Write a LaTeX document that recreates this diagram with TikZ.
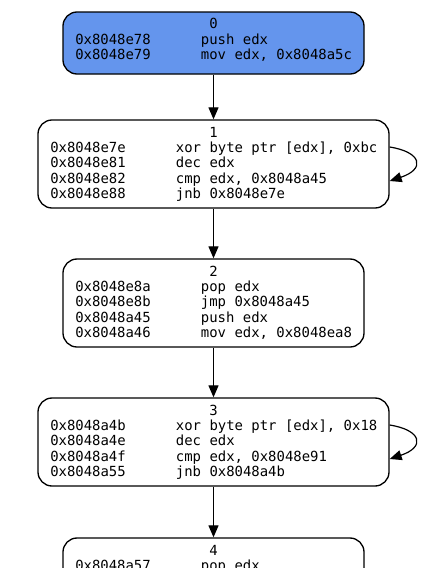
\documentclass[tikz,border=0pt]{standalone}
\usepackage{fontspec}
\setmonofont{DejaVu Sans Mono}
\usetikzlibrary{arrows.meta}
\definecolor{blkblue}{HTML}{6495ED}
\tikzset{
  blk/.style={draw=black, line width=1pt, rounded corners=10.5pt, inner sep=0pt, fill=white},
  wide/.style={blk, minimum width=263.25pt, minimum height=66pt},
  narrow/.style={blk, minimum width=225.75pt, minimum height=66pt},
  txt/.style={inner sep=0pt, font=\ttfamily\fontsize{10.45pt}{12pt}\selectfont, anchor=base west},
  num/.style={txt, anchor=base},
  arr/.style={line width=0.9pt, -{Triangle[length=9pt, width=7.5pt]}}
}
\begin{document}
\begin{tikzpicture}[x=0.75pt, y=-0.75pt]
\useasboundingbox (0,0) rectangle (425,568);
\begin{scope}
\clip (0,0) rectangle (425,568);
% blocks
\node[narrow, fill=blkblue, minimum height=46.5pt] (n0) at (213.5, 43) {};
\node[wide] (n1) at (213.5, 164) {};
\node[narrow] (n2) at (213.5, 303) {};
\node[wide] (n3) at (213.5, 442) {};
\node[narrow] (n4) at (213.5, 582) {};
% block 0
\node[num] (t0) at (213.5, 28) {0};
\node[txt] (a01) at (75, 44) {0x8048e78};   \node[txt] (i01) at (200.7, 44) {push edx};
\node[txt] (a02) at (75, 59.4) {0x8048e79}; \node[txt] (i02) at (200.7, 59.4) {mov edx, 0x8048a5c};
% block 1
\node[num] (t1) at (213.5, 137) {1};
\node[txt] (a11) at (50, 152.4) {0x8048e7e}; \node[txt] (i11) at (175.7, 152.4) {xor byte ptr [edx], 0xbc};
\node[txt] (a12) at (50, 167.8) {0x8048e81}; \node[txt] (i12) at (175.7, 167.8) {dec edx};
\node[txt] (a13) at (50, 183.2) {0x8048e82}; \node[txt] (i13) at (175.7, 183.2) {cmp edx, 0x8048a45};
\node[txt] (a14) at (50, 198.6) {0x8048e88}; \node[txt] (i14) at (175.7, 198.6) {jnb 0x8048e7e};
% block 2
\node[num] (t2) at (213.5, 276) {2};
\node[txt] (a21) at (75, 291.4) {0x8048e8a}; \node[txt] (i21) at (200.7, 291.4) {pop edx};
\node[txt] (a22) at (75, 306.8) {0x8048e8b}; \node[txt] (i22) at (200.7, 306.8) {jmp 0x8048a45};
\node[txt] (a23) at (75, 322.2) {0x8048a45}; \node[txt] (i23) at (200.7, 322.2) {push edx};
\node[txt] (a24) at (75, 337.6) {0x8048a46}; \node[txt] (i24) at (200.7, 337.6) {mov edx, 0x8048ea8};
% block 3
\node[num] (t3) at (213.5, 415) {3};
\node[txt] (a31) at (50, 430.4) {0x8048a4b}; \node[txt] (i31) at (175.7, 430.4) {xor byte ptr [edx], 0x18};
\node[txt] (a32) at (50, 445.8) {0x8048a4e}; \node[txt] (i32) at (175.7, 445.8) {dec edx};
\node[txt] (a33) at (50, 461.2) {0x8048a4f}; \node[txt] (i33) at (175.7, 461.2) {cmp edx, 0x8048e91};
\node[txt] (a34) at (50, 476.6) {0x8048a55}; \node[txt] (i34) at (175.7, 476.6) {jnb 0x8048a4b};
% block 4
\node[num] (t4) at (213.5, 555) {4};
\node[txt] (a41) at (75, 570.4) {0x8048a57}; \node[txt] (i41) at (200.7, 570.4) {pop edx};
% edges
\draw[arr] (n0.south) -- (n1.north);
\draw[arr] (n1.south) -- (n2.north);
\draw[arr] (n2.south) -- (n3.north);
\draw[arr] (n3.south) -- (n4.north);
\draw[arr] ([yshift=12.75pt]n1.east) .. controls +(32,5) and +(36,-12) .. ([yshift=-12.75pt]n1.east);
\draw[arr] ([yshift=12.75pt]n3.east) .. controls +(32,5) and +(36,-12) .. ([yshift=-12.75pt]n3.east);
\end{scope}
\end{tikzpicture}
\end{document}
